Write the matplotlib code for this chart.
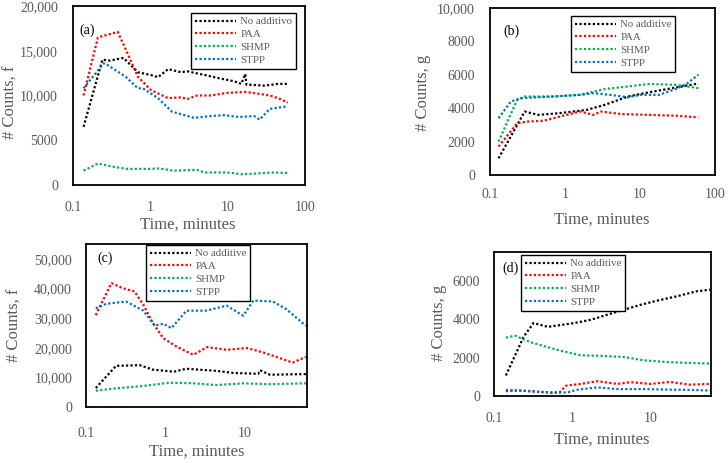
import matplotlib
matplotlib.use("Agg")
import matplotlib.pyplot as plt

W, H = 728, 463
plt.rcParams['font.family'] = ['Liberation Serif', 'DejaVu Serif']

GREY = '#595959'
C_NONE, C_PAA, C_SHMP, C_STPP = 'black', '#ff0000', '#00b050', '#0070c0'

# ---------------- Panel (a) : # Counts, f ----------------
a_t_none = [0.137, 0.24, 0.30, 0.45, 0.69, 1.0, 1.26, 1.7, 2.5, 3.0, 5.0, 8.0, 12.0, 15.0, 16.9, 17.5, 20.0, 30.0, 45.0, 60.0]
a_none   = [6500, 14000, 13900, 14200, 12600, 12300, 12050, 12950, 12600, 12700, 12300, 11900, 11600, 11300, 12400, 11200, 11200, 11100, 11300, 11300]
a_t_paa  = [0.137, 0.21, 0.38, 0.52, 0.69, 1.02, 1.7, 2.5, 3.0, 4.0, 6.0, 10.0, 17.0, 25.0, 35.0, 45.0, 60.0]
a_paa    = [10000, 16500, 17100, 14500, 12100, 10600, 9700, 9800, 9600, 10000, 10000, 10300, 10400, 10200, 10000, 9700, 9200]
a_t_shmp = [0.137, 0.21, 0.35, 0.5, 1.0, 1.3, 2.0, 4.0, 5.0, 10.0, 15.0, 25.0, 40.0, 60.0]
a_shmp   = [1600, 2400, 2000, 1800, 1800, 1850, 1600, 1700, 1400, 1400, 1200, 1300, 1400, 1350]
a_t_stpp = [0.137, 0.25, 0.28, 0.48, 0.69, 0.8, 1.26, 1.9, 3.7, 6.0, 9.0, 14.0, 22.0, 25.8, 35.0, 60.0]
a_stpp   = [10800, 13600, 13400, 12100, 10800, 10800, 9700, 8200, 7500, 7700, 7800, 7600, 7700, 7300, 8500, 8800]

# ---------------- Panel (b) : # Counts, g ----------------
b_t_none = [0.13, 0.29, 0.44, 0.83, 1.95, 3.4, 6.9, 13.1, 27.0, 60.0]
b_none   = [1000, 3800, 3600, 3700, 3900, 4200, 4700, 4950, 5200, 5480]
b_t_paa  = [0.13, 0.23, 0.32, 0.52, 0.95, 1.6, 2.4, 3.0, 5.6, 13.0, 30.0, 60.0]
b_paa    = [1700, 3100, 3200, 3250, 3550, 3800, 3600, 3800, 3650, 3600, 3550, 3450]
b_t_shmp = [0.13, 0.23, 0.29, 0.69, 1.6, 3.4, 6.9, 13.0, 30.0, 60.0]
b_shmp   = [2000, 4500, 4700, 4700, 4800, 5150, 5300, 5450, 5400, 5200]
b_t_stpp = [0.13, 0.19, 0.26, 0.69, 1.6, 2.4, 4.0, 6.9, 10.0, 18.0, 30.0, 43.0, 60.0]
b_stpp   = [3400, 4400, 4600, 4700, 4800, 4900, 4800, 4650, 4800, 4800, 5150, 5500, 6000]

# ---------------- Panel (c) : # Counts, f ----------------
c_t_none = [0.133, 0.24, 0.48, 0.70, 1.29, 1.84, 4.4, 7.2, 15.0, 15.8, 21.0, 60.0]
c_none   = [6400, 13900, 14100, 12600, 11900, 12900, 12200, 11500, 11200, 12400, 10900, 11100]
c_t_paa  = [0.133, 0.21, 0.29, 0.41, 0.53, 0.70, 0.95, 1.39, 2.27, 3.4, 6.0, 10.8, 17.4, 28.0, 41.0, 60.0]
c_paa    = [31000, 41800, 40100, 39000, 34500, 28300, 23200, 20400, 17600, 20200, 19300, 19900, 18400, 16500, 15000, 16900]
c_t_shmp = [0.133, 0.24, 0.53, 1.15, 2.27, 4.4, 9.7, 21.0, 60.0]
c_shmp   = [5500, 6300, 7100, 8200, 8000, 7400, 8000, 7700, 8000]
c_t_stpp = [0.133, 0.18, 0.32, 0.53, 0.74, 0.95, 1.2, 1.86, 3.3, 6.0, 9.7, 13.0, 23.0, 34.0, 60.0]
c_stpp   = [33300, 34800, 35600, 32500, 27500, 28100, 26600, 32500, 32500, 34200, 30800, 35900, 35600, 33000, 27400]

# ---------------- Panel (d) : # Counts, g ----------------
d_t_none = [0.142, 0.24, 0.32, 0.49, 1.07, 1.74, 2.8, 4.6, 7.5, 12.1, 21.7, 39.0, 60.0]
d_none   = [1070, 3090, 3800, 3600, 3800, 3970, 4230, 4490, 4750, 4960, 5190, 5450, 5540]
d_t_paa  = [0.142, 0.205, 0.33, 0.54, 0.69, 0.84, 1.3, 2.1, 3.8, 5.6, 10.0, 18.0, 32.0, 60.0]
d_paa    = [250, 280, 230, 190, 190, 540, 630, 770, 630, 720, 630, 730, 590, 630]
d_t_shmp = [0.142, 0.186, 0.30, 0.66, 1.30, 2.33, 4.6, 8.2, 16.3, 32.0, 60.0]
d_shmp   = [3040, 3140, 2790, 2390, 2120, 2090, 2030, 1860, 1770, 1720, 1690]
d_t_stpp = [0.142, 0.25, 0.54, 0.88, 1.18, 2.1, 3.8, 8.2, 18.0, 32.0, 60.0]
d_stpp   = [320, 280, 160, 190, 330, 450, 360, 360, 330, 320, 280]

a_yticks = [0, 5000, 10000, 15000, 20000]
a_ylabels = ['0', '5000', '10,000', '15,000', '20,000']
b_yticks = [0, 2000, 4000, 6000, 8000, 10000]
b_ylabels = ['0', '2000', '4000', '6000', '8000', '10,000']
c_yticks = [0, 10000, 20000, 30000, 40000, 50000]
c_ylabels = ['0', '10,000', '20,000', '30,000', '40,000', '50,000']
d_yticks = [0, 2000, 4000, 6000]
d_ylabels = ['0', '2000', '4000', '6000']
x4_ticks = [0.1, 1, 10, 100]
x4_labels = ['0.1', '1', '10', '100']
x3_ticks = [0.1, 1, 10]
x3_labels = ['0.1', '1', '10']

fig = plt.figure(figsize=(W / 100, H / 100), dpi=100)


def px_axes(l, t, r, b):
    return fig.add_axes([l / W, 1 - b / H, (r - l) / W, (b - t) / H])


def setup(ax, series, xlim, ylim, xt, xl, yt, yl, xpad, ypad, tag, tagpos, legend_box, labels):
    for (tt, vv, col), lab in zip(series, labels):
        ax.plot(tt, vv, color=col, lw=1.6, linestyle=(0, (1, 1)), label=lab)
    ax.set_xscale('log')
    ax.set_xlim(*xlim)
    ax.set_ylim(*ylim)
    ax.set_xticks(xt)
    ax.set_xticklabels(xl)
    ax.set_yticks(yt)
    ax.set_yticklabels(yl)
    ax.minorticks_off()
    ax.tick_params(axis='both', length=0, labelsize=10, labelcolor=GREY)
    ax.tick_params(axis='x', pad=xpad)
    ax.tick_params(axis='y', pad=ypad)
    for s in ax.spines.values():
        s.set_linewidth(1.3)
        s.set_color('black')
    fig.text(tagpos[0] / W, 1 - tagpos[1] / H, tag, ha='left', va='center',
             fontsize=10, color='black')
    lx, ly = legend_box
    leg = ax.legend(loc='upper left', bbox_to_anchor=(lx / W, 1 - ly / H),
                    bbox_transform=fig.transFigure, fontsize=7.8, frameon=True,
                    fancybox=False, framealpha=1, edgecolor='black',
                    handlelength=3.8, handletextpad=0.4, labelspacing=0.3,
                    borderpad=0.35, borderaxespad=0)
    leg.get_frame().set_linewidth(1.0)
    for txt in leg.get_texts():
        txt.set_color(GREY)


axa = px_axes(73, 6, 305, 185)
setup(axa, [(a_t_none, a_none, C_NONE), (a_t_paa, a_paa, C_PAA),
            (a_t_shmp, a_shmp, C_SHMP), (a_t_stpp, a_stpp, C_STPP)],
      (0.1, 100), (0, 20000), x4_ticks, x4_labels, a_yticks, a_ylabels, 11.5, 10.8,
      '(a)', (79, 30), (191, 13), ['No additivo', 'PAA', 'SHMP', 'STPP'])

axb = px_axes(490, 8, 715, 175)
setup(axb, [(b_t_none, b_none, C_NONE), (b_t_paa, b_paa, C_PAA),
            (b_t_shmp, b_shmp, C_SHMP), (b_t_stpp, b_stpp, C_STPP)],
      (0.1, 100), (0, 10000), x4_ticks, x4_labels, b_yticks, b_ylabels, 9.4, 10.8,
      '(b)', (503, 31), (571, 16), ['No additive', 'PAA', 'SHMP', 'STPP'])

axc = px_axes(86, 244, 307, 407)
setup(axc, [(c_t_none, c_none, C_NONE), (c_t_paa, c_paa, C_PAA),
            (c_t_shmp, c_shmp, C_SHMP), (c_t_stpp, c_stpp, C_STPP)],
      (0.1, 62), (0, 55000), x3_ticks, x3_labels, c_yticks, c_ylabels, 14.4, 10,
      '(c)', (97, 258), (146, 245), ['No additive', 'PAA', 'SHMP', 'STPP'])

axd = px_axes(494, 252, 711, 396)
setup(axd, [(d_t_none, d_none, C_NONE), (d_t_paa, d_paa, C_PAA),
            (d_t_shmp, d_shmp, C_SHMP), (d_t_stpp, d_stpp, C_STPP)],
      (0.1, 60), (0, 7500), x3_ticks, x3_labels, d_yticks, d_ylabels, 11.5, 10,
      '(d)', (502, 268), (521, 255), ['No additive', 'PAA', 'SHMP', 'STPP'])


def ftext(x, y, s, rot=0):
    fig.text(x / W, 1 - y / H, s, ha='center', va='center', rotation=rot,
             fontsize=12, color=GREY)


ftext(188, 225, 'Time, minutes')
ftext(602, 220, 'Time, minutes')
ftext(197, 452, 'Time, minutes')
ftext(602, 440, 'Time, minutes')
ftext(11, 102, '# Counts, f', 90)
ftext(423, 93, '# Counts, g', 90)
ftext(15, 325, '# Counts, f', 90)
ftext(439, 323, '# Counts, g', 90)

fig.savefig('out.png', dpi=100)
